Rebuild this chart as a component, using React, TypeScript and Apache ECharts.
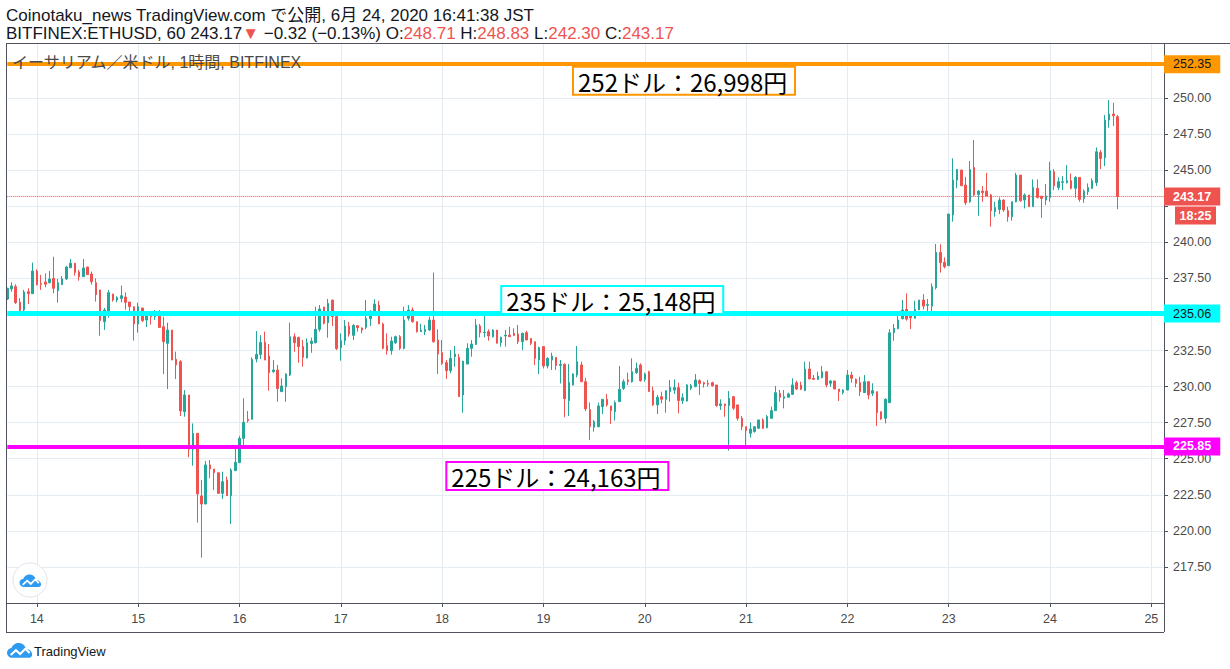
import React, { useEffect, useRef } from 'react';
import * as echarts from 'echarts';

// ---------- data: hourly ETHUSD candles [open, close, low, high] ----------
const D13 = [
  [236.07, 236.81, 236.0, 236.85], [236.77, 236.98, 236.58, 237.23], [236.93, 235.82, 235.73, 237.09],
  [235.84, 235.27, 235.13, 236.12], [235.31, 236.56, 235.17, 236.7], [236.58, 236.44, 235.73, 236.81],
  [236.44, 238.01, 236.44, 238.59],
];
const D14 = [
  [238.01, 237.07, 237.0, 238.13], [237.14, 237.07, 236.7, 237.74], [237.25, 237.09, 236.88, 237.85],
  [237.2, 237.46, 237.16, 238.01], [237.5, 236.81, 236.47, 239.0], [236.65, 237.2, 235.82, 237.46],
  [237.07, 237.46, 237.05, 237.67], [237.46, 238.29, 237.39, 238.36], [238.24, 238.55, 238.22, 238.85],
  [238.55, 237.9, 237.69, 238.55], [237.94, 237.62, 237.34, 238.08], [237.62, 238.22, 237.62, 238.85],
  [238.29, 237.76, 237.76, 238.29], [237.8, 237.27, 237.07, 237.97], [237.2, 236.37, 235.89, 237.5],
  [236.7, 234.57, 233.53, 236.7], [234.5, 235.31, 233.93, 235.45], [235.2, 236.51, 234.78, 236.7],
  [236.42, 236.0, 235.89, 236.42], [236.0, 236.17, 235.84, 236.26], [236.1, 236.3, 235.84, 237.0],
  [236.21, 235.84, 235.33, 236.53], [235.86, 235.54, 235.03, 235.86], [235.54, 234.34, 233.19, 235.54],
];
const D15 = [
  [234.34, 235.54, 233.74, 235.82], [235.45, 234.57, 234.48, 235.45], [234.62, 234.97, 234.13, 235.2],
  [234.97, 234.85, 234.3, 235.2], [234.85, 235.1, 234.62, 235.31], [235.12, 234.1, 234.1, 235.3],
  [234.15, 233.11, 230.87, 234.85], [233.0, 233.92, 229.83, 234.43], [233.92, 231.84, 231.84, 233.92],
  [231.89, 231.5, 230.53, 232.42], [231.73, 228.31, 227.96, 231.84], [228.26, 229.42, 227.91, 229.76],
  [229.42, 225.65, 225.1, 229.42], [225.65, 226.76, 224.52, 227.45], [226.76, 222.56, 220.57, 226.76],
  [222.42, 221.86, 218.14, 223.53], [221.86, 224.57, 221.86, 224.84], [224.57, 224.29, 223.64, 224.91],
  [224.29, 224.03, 222.83, 224.29], [224.03, 222.6, 222.56, 224.03], [222.6, 223.41, 222.21, 224.1],
  [223.53, 222.44, 222.44, 223.76], [222.44, 224.22, 220.48, 224.34], [224.17, 224.75, 224.17, 225.72],
];
const D16 = [
  [224.73, 226.41, 224.73, 226.58], [226.41, 227.52, 225.95, 229.19], [227.73, 227.64, 227.5, 228.31],
  [227.73, 231.89, 227.73, 232.03], [231.91, 232.23, 231.68, 233.85], [232.23, 233.07, 231.91, 233.57],
  [233.07, 231.84, 231.84, 233.81], [232.12, 230.96, 229.72, 232.95], [231.03, 231.15, 230.96, 231.84],
  [231.15, 229.86, 228.95, 231.5], [229.65, 230.04, 229.65, 230.57], [230.0, 230.87, 228.95, 230.92],
  [230.8, 233.46, 230.73, 234.43], [233.46, 233.04, 232.42, 233.69], [233.41, 232.77, 231.66, 233.46],
  [232.77, 232.03, 231.38, 233.23], [231.98, 233.04, 231.96, 233.34], [232.99, 233.14, 232.35, 233.39],
  [233.04, 233.97, 232.99, 235.54], [233.97, 235.38, 233.81, 235.65], [235.52, 234.38, 234.31, 235.52],
  [234.43, 235.77, 233.39, 236.07], [236.0, 234.85, 234.2, 236.0], [234.85, 232.63, 232.54, 234.89],
];
const D17 = [
  [232.7, 233.18, 231.8, 233.69], [233.18, 234.2, 232.88, 234.61], [234.2, 233.64, 233.46, 234.48],
  [233.55, 234.24, 233.23, 234.34], [234.22, 234.08, 233.81, 234.27], [234.06, 233.92, 233.69, 234.1],
  [234.1, 234.73, 233.97, 236.0], [234.71, 235.24, 234.2, 235.26], [235.19, 235.72, 235.05, 236.05],
  [235.65, 234.34, 234.34, 235.95], [234.34, 232.65, 232.58, 234.43], [232.86, 232.49, 232.21, 233.69],
  [232.49, 233.16, 232.21, 233.46], [233.04, 233.46, 232.95, 233.53], [233.46, 232.65, 232.54, 233.57],
  [232.65, 234.61, 232.58, 235.54], [234.73, 235.31, 234.57, 235.65], [235.31, 234.5, 234.43, 235.49],
  [234.5, 233.81, 233.74, 234.5], [233.81, 233.92, 233.78, 234.34], [233.81, 233.97, 233.57, 234.27],
  [233.92, 234.61, 233.85, 234.84], [234.61, 233.11, 233.04, 237.9], [233.23, 232.26, 230.87, 233.97],
];
const D18 = [
  [232.35, 231.61, 231.5, 233.23], [231.66, 231.1, 230.53, 231.84], [231.1, 231.96, 230.92, 232.53],
  [232.07, 232.26, 231.38, 232.81], [232.03, 229.3, 229.3, 232.26], [229.42, 231.77, 228.19, 231.77],
  [231.56, 232.65, 231.56, 233.0], [232.65, 232.95, 232.07, 233.23], [232.93, 234.27, 232.88, 234.68],
  [234.2, 233.74, 233.41, 234.34], [233.74, 233.78, 233.41, 234.89], [233.81, 233.51, 233.18, 233.97],
  [233.46, 233.92, 233.39, 233.97], [233.92, 233.0, 233.0, 233.92], [233.04, 233.41, 232.77, 233.46],
  [233.51, 233.57, 232.77, 233.92], [233.57, 233.46, 233.46, 234.15], [233.69, 233.55, 233.5, 234.04],
  [233.64, 233.11, 232.95, 234.27], [233.11, 233.69, 232.53, 233.74], [233.74, 233.23, 233.23, 233.87],
  [233.34, 233.0, 232.88, 233.34], [233.11, 231.96, 231.5, 233.11], [231.84, 232.7, 230.87, 232.77],
];
const D19 = [
  [232.77, 231.43, 231.26, 232.77], [231.43, 231.96, 231.26, 232.03], [231.84, 232.12, 231.15, 232.35],
  [232.03, 231.47, 231.15, 232.03], [231.47, 231.54, 230.22, 231.84], [231.54, 229.16, 227.87, 231.61],
  [229.02, 230.29, 227.96, 231.56], [230.11, 230.87, 230.08, 230.92], [230.8, 231.73, 230.64, 232.81],
  [231.5, 230.34, 230.34, 231.73], [230.34, 228.45, 228.3, 230.6], [228.4, 227.22, 226.3, 228.9],
  [227.18, 227.57, 226.88, 227.68], [227.22, 228.66, 227.18, 228.89], [228.61, 229.12, 228.1, 229.12],
  [229.12, 228.73, 228.61, 229.49], [228.66, 228.33, 227.41, 228.66], [228.26, 228.89, 227.64, 229.03],
  [228.96, 229.81, 228.96, 231.43], [229.88, 230.34, 229.76, 230.5], [230.46, 230.36, 230.11, 230.97],
  [230.34, 231.03, 230.27, 231.96], [230.97, 231.26, 230.87, 231.66], [231.5, 230.41, 230.34, 231.61],
];
const D20 = [
  [230.5, 230.87, 230.34, 230.97], [231.03, 229.65, 229.65, 231.1], [229.72, 228.73, 228.66, 230.0],
  [228.73, 229.26, 228.1, 229.42], [229.3, 229.12, 228.84, 229.65], [229.12, 229.72, 228.19, 229.72],
  [229.65, 229.95, 228.96, 230.46], [229.76, 229.93, 229.49, 230.5], [229.93, 229.03, 228.15, 230.27],
  [229.03, 229.23, 228.8, 229.53], [229.0, 230.11, 228.96, 230.18], [229.88, 230.06, 229.76, 230.18],
  [230.0, 230.46, 229.95, 230.87], [230.41, 230.22, 229.42, 230.5], [230.27, 230.18, 229.93, 230.34],
  [230.22, 230.16, 230.0, 230.46], [230.27, 230.06, 230.0, 230.34], [230.11, 228.68, 228.61, 230.11],
  [228.68, 228.8, 228.38, 229.12], [228.8, 228.68, 227.91, 228.8], [228.68, 229.19, 225.56, 229.69],
  [229.3, 228.5, 228.38, 229.35], [228.73, 227.8, 227.64, 228.73], [227.8, 227.22, 226.99, 227.96],
];
const D21 = [
  [227.22, 226.95, 225.95, 227.22], [226.76, 227.06, 226.46, 227.52], [226.88, 227.22, 226.81, 227.22],
  [227.11, 227.69, 227.09, 227.69], [227.69, 227.11, 227.06, 227.8], [227.15, 227.92, 227.11, 228.03],
  [227.8, 228.33, 227.8, 228.61], [228.33, 229.58, 228.33, 230.04], [229.53, 229.26, 228.96, 229.76],
  [229.19, 229.3, 228.49, 229.76], [229.26, 229.49, 229.26, 229.58], [229.46, 230.11, 229.42, 230.57],
  [230.27, 229.83, 229.76, 230.41], [230.11, 229.81, 229.76, 230.34], [229.72, 231.22, 229.72, 231.73],
  [231.22, 230.53, 230.53, 231.73], [230.57, 230.5, 230.46, 230.8], [230.5, 230.73, 230.46, 231.03],
  [230.62, 231.03, 230.57, 231.43], [231.03, 230.11, 229.95, 231.03], [230.23, 230.39, 229.99, 230.46],
  [230.39, 229.83, 229.83, 230.39], [229.83, 229.65, 229.0, 229.83], [229.58, 229.76, 229.46, 229.81],
];
const D22 = [
  [229.76, 230.8, 229.76, 231.15], [230.8, 230.57, 230.27, 231.03], [230.5, 230.23, 229.95, 230.57],
  [230.27, 229.65, 229.35, 230.69], [229.58, 230.34, 229.58, 230.8], [230.34, 229.42, 229.12, 230.34],
  [229.53, 229.72, 229.35, 230.23], [229.65, 228.19, 227.27, 229.65], [228.26, 227.76, 227.69, 228.26],
  [227.8, 229.12, 227.45, 229.19], [228.88, 233.73, 228.88, 233.97], [233.74, 234.04, 233.18, 234.34],
  [234.01, 234.61, 233.99, 235.19], [234.71, 235.31, 234.66, 236.0], [235.35, 234.68, 234.57, 236.46],
  [234.91, 234.77, 233.99, 235.07], [234.73, 235.35, 234.73, 235.95], [235.31, 236.0, 235.31, 236.0],
  [236.0, 235.58, 235.35, 236.41], [235.63, 235.68, 235.24, 236.07], [235.58, 236.92, 235.24, 237.15],
  [236.85, 239.3, 236.74, 239.88], [239.3, 238.59, 237.9, 239.86], [238.61, 238.31, 238.19, 238.96],
];
const D23 = [
  [238.38, 241.96, 238.36, 241.96], [241.89, 244.31, 241.43, 245.82], [244.31, 245.05, 243.74, 245.05],
  [245.0, 243.92, 243.92, 245.05], [243.97, 242.74, 242.58, 244.54], [242.81, 245.05, 242.74, 245.63],
  [245.19, 243.28, 243.21, 247.09], [243.32, 243.55, 241.84, 243.62], [243.55, 243.44, 242.81, 243.9],
  [243.55, 243.21, 243.21, 244.82], [243.28, 242.19, 241.08, 243.35], [242.12, 242.42, 241.77, 242.81],
  [242.28, 242.93, 241.96, 243.11], [242.93, 242.24, 242.12, 242.97], [242.19, 241.77, 241.43, 242.47],
  [241.77, 242.81, 241.5, 242.81], [242.81, 244.66, 242.77, 244.82], [244.66, 242.88, 242.81, 244.66],
  [242.93, 243.28, 242.35, 243.39], [243.28, 242.47, 242.47, 243.28], [242.47, 243.8, 242.47, 244.36],
  [243.74, 243.11, 243.04, 244.36], [243.2, 243.04, 241.7, 243.2], [242.93, 243.2, 242.58, 244.04],
];
const D24 = [
  [243.11, 244.96, 242.81, 245.58], [244.89, 243.92, 243.62, 245.07], [243.8, 244.2, 243.62, 244.5],
  [244.15, 244.2, 243.62, 244.59], [244.13, 244.27, 244.08, 245.35], [244.27, 243.74, 243.67, 244.77],
  [243.74, 244.5, 243.09, 244.59], [244.5, 242.97, 242.81, 244.5], [243.04, 243.55, 242.74, 243.67],
  [243.5, 243.8, 243.28, 244.08], [243.74, 244.27, 243.69, 244.43], [244.13, 246.28, 243.9, 246.58],
  [246.23, 245.81, 245.07, 246.39], [245.86, 248.47, 245.28, 248.82], [248.47, 248.89, 247.94, 249.86],
  [248.89, 248.77, 248.06, 249.67], [248.71, 243.17, 242.3, 248.83],
];
const DAYS = [D13, D14, D15, D16, D17, D18, D19, D20, D21, D22, D23, D24];
const CANDLES = DAYS.flat();

// hourly time slots (June 13 17:00 JST onward), incl. empty space on the right
const START_DAY = 13;
const START_HOUR = 17;
const SLOT_COUNT = 275;
const CATEGORIES: string[] = [];
for (let k = 0; k < SLOT_COUNT; k++) {
  const t = START_HOUR + k;
  CATEGORIES.push(`6/${START_DAY + Math.floor(t / 24)} ${String(t % 24).padStart(2, '0')}:00`);
}

// price-axis ticks hidden behind the level tags in the reference
const HIDDEN_TICKS = [252.5, 242.5];

// horizontal levels
const LEVEL_VALUES = [252.35, 235.06, 225.85, 243.17];
const LEVEL_COLORS = ['#ff9800', '#00ffff', '#ff00ff', '#ef5350'];
const LEVEL_TEXT_COLORS = ['#131722', '#131722', '#ffffff', '#ffffff'];
const LEVEL_WIDTHS = [4, 5, 4, 1];
const COUNTDOWN = '18:25';

// annotation boxes
const NOTE_TEXTS = ['252ドル：26,998円', '235ドル：25,148円', '225ドル：24,163円'];
const NOTE_COLORS = ['#ff9800', '#00ffff', '#ff00ff'];
const NOTE_AT: [number, number][] = [[134, 252.17], [117, 236.97], [104, 224.78]];

const HEADER_1 = 'Coinotaku_news TradingView.com で公開, 6月 24, 2020 16:41:38 JST';
const SYMBOL = 'BITFINEX:ETHUSD, 60 243.17';
const CHANGE = ' −0.32 (−0.13%)';
const OHLC_LABELS = ['O', 'H', 'L', 'C'];
const OHLC_VALUES = ['248.71', '248.83', '242.30', '243.17'];
const PANE_TITLE = 'イーサリアム／米ドル, 1時間, BITFINEX';

const UP = '#26a69a';
const DOWN = '#ef5350';
const GRID = '#e4ebf1';
const AXIS = '#50535e';
const TEXT = '#131722';
const FONT = "'Liberation Sans', Arial, 'Noto Sans CJK JP', sans-serif";
const CJK = "'Noto Sans CJK JP', sans-serif";

const CLOUD_PATH =
  'M5 14C2.2 14 0 11.8 0 9.2C0 6.8 1.9 4.9 4.3 4.7C5.2 2 7.9 0 11.1 0C14.7 0 17.6 2.5 18.2 5.8C21.4 5.9 24 8.3 24 11.2C24 12.7 22.8 14 21.2 14Z';
echarts.graphic.registerShape('tvCloud', echarts.graphic.extendPath(CLOUD_PATH, {}));

const isMidnight = (_i: number, v: string) => v.endsWith(' 00:00');

function logo(x: number, y: number, s: number) {
  return {
    type: 'group',
    x,
    y,
    scaleX: s,
    scaleY: s,
    z: 100,
    children: [
      { type: 'tvCloud', style: { fill: '#2e9bf0' }, z: 100 },
      {
        type: 'polyline',
        shape: { points: [[3.5, 11.5], [8.5, 6.8], [12.5, 10.5], [17.5, 5.5], [21.5, 9.5]] },
        style: { stroke: '#ffffff', lineWidth: 2, fill: null },
        z: 101,
      },
    ],
  };
}

export default function App() {
  const ref = useRef<HTMLDivElement>(null);

  useEffect(() => {
    if (!ref.current) return;
    const chart = echarts.init(ref.current, null, { renderer: 'svg' });

    const markData = LEVEL_VALUES.map((v, i) => ({
      yAxis: v,
      lineStyle: {
        color: LEVEL_COLORS[i],
        width: LEVEL_WIDTHS[i],
        type: i === 3 ? 'dotted' : 'solid',
      },
      label: {
        show: true,
        position: 'end',
        distance: 0,
        formatter: v.toFixed(2),
        backgroundColor: LEVEL_COLORS[i],
        color: LEVEL_TEXT_COLORS[i],
        fontWeight: i >= 2 ? 'bold' : 'normal',
        fontFamily: FONT,
        fontSize: 12.5,
        lineHeight: 13,
        padding: [3, 9, 2, 9],
      },
    }));

    chart.setOption({
      animation: false,
      backgroundColor: '#ffffff',
      textStyle: { fontFamily: FONT },
      grid: { left: 7.3, top: 43.5, width: 1156.7, height: 559.5, containLabel: false },
      xAxis: {
        type: 'category',
        data: CATEGORIES,
        boundaryGap: false,
        axisLine: { show: true, lineStyle: { color: AXIS, width: 1 } },
        axisTick: { show: true, interval: isMidnight, length: 4, lineStyle: { color: AXIS } },
        axisLabel: {
          show: true,
          interval: isMidnight,
          formatter: (v: string) => v.split('/')[1].split(' ')[0],
          color: '#4a4a4a',
          fontSize: 12.5,
          margin: 10,
          fontFamily: FONT,
        },
        splitLine: { show: true, interval: isMidnight, lineStyle: { color: GRID, width: 1 } },
      },
      yAxis: {
        type: 'value',
        position: 'right',
        min: 215,
        max: 253.78,
        interval: 2.5,
        axisLine: { show: true, lineStyle: { color: AXIS, width: 1 } },
        axisTick: { show: true, length: 4, lineStyle: { color: AXIS } },
        axisLabel: {
          color: '#4a4a4a',
          fontSize: 12.5,
          margin: 9,
          fontFamily: FONT,
          showMinLabel: false,
          showMaxLabel: false,
          formatter: (v: number) =>
            HIDDEN_TICKS.some((h) => Math.abs(h - v) < 1e-6) ? '' : v.toFixed(2),
        },
        splitLine: { show: true, lineStyle: { color: GRID, width: 1 } },
      },
      series: [
        {
          type: 'candlestick',
          data: CANDLES,
          barWidth: 2,
          itemStyle: {
            color: UP,
            color0: DOWN,
            borderColor: UP,
            borderColor0: DOWN,
            borderWidth: 1,
          },
          markLine: {
            symbol: ['none', 'none'],
            silent: true,
            animation: false,
            data: markData,
          },
        },
      ],
    });

    const px = (i: number) => chart.convertToPixel({ xAxisIndex: 0 }, i) as number;
    const py = (v: number) => chart.convertToPixel({ yAxisIndex: 0 }, v) as number;

    const elements: any[] = [];
    // header
    elements.push({
      type: 'text',
      x: 6,
      y: 15,
      z: 100,
      style: { text: HEADER_1, fontSize: 17, fontFamily: FONT, fill: TEXT, verticalAlign: 'middle' },
    });
    let line2 = `{a|${SYMBOL}}{r|▼}{a|${CHANGE}}`;
    OHLC_LABELS.forEach((l, i) => {
      line2 += `{a| ${l}:}{r|${OHLC_VALUES[i]}}`;
    });
    elements.push({
      type: 'text',
      x: 6,
      y: 33,
      z: 100,
      style: {
        text: line2,
        fontSize: 17,
        fontFamily: FONT,
        verticalAlign: 'middle',
        rich: {
          a: { fill: TEXT, fontSize: 17, fontFamily: FONT },
          r: { fill: DOWN, fontSize: 17, fontFamily: FONT },
        },
      },
    });
    // frame
    const frame = [
      [6, 43.5, 1230, 43.5],
      [6.5, 43.5, 6.5, 632],
      [6, 632.5, 1164, 632.5],
      [6, 603.5, 8, 603.5],
      [1164.5, 603, 1164.5, 632],
    ];
    frame.forEach((f) =>
      elements.push({
        type: 'line',
        z: 50,
        shape: { x1: f[0], y1: f[1], x2: f[2], y2: f[3] },
        style: { stroke: AXIS, lineWidth: 1 },
      })
    );
    // pane title
    elements.push({
      type: 'text',
      x: 12,
      y: 62,
      z: 100,
      style: { text: PANE_TITLE, fontSize: 16, fontFamily: FONT, fill: '#4a4a4a', verticalAlign: 'middle' },
    });
    // annotation boxes
    NOTE_TEXTS.forEach((t, i) => {
      const x = px(NOTE_AT[i][0]);
      const y = py(NOTE_AT[i][1]);
      elements.push({
        type: 'rect',
        z: 100,
        shape: { x, y, width: 222, height: 28 },
        style: { fill: '#ffffff', stroke: NOTE_COLORS[i], lineWidth: 2 },
      });
      elements.push({
        type: 'text',
        z: 101,
        x: x + 5,
        y: y + 14.5,
        style: { text: t, fontSize: 24, fontFamily: CJK, fill: '#000000', verticalAlign: 'middle' },
      });
    });
    // countdown box under the last price
    const yLast = py(LEVEL_VALUES[3]);
    elements.push({
      type: 'rect',
      z: 100,
      shape: { x: 1175, y: yLast + 10, width: 41, height: 18 },
      style: { fill: DOWN },
    });
    elements.push({
      type: 'text',
      z: 101,
      x: 1195.5,
      y: yLast + 19,
      style: {
        text: COUNTDOWN,
        fontSize: 12.5,
        fontWeight: 'bold',
        fontFamily: FONT,
        fill: '#ffffff',
        align: 'center',
        verticalAlign: 'middle',
      },
    });
    // small round logo button
    elements.push({
      type: 'circle',
      z: 90,
      shape: { cx: 30, cy: 580, r: 17 },
      style: { fill: '#ffffff', stroke: '#e0e3eb', lineWidth: 1 },
    });
    elements.push(logo(19.5, 574.5, 0.9));
    // bottom brand
    elements.push(logo(7, 643, 1.05));
    elements.push({
      type: 'text',
      x: 34,
      y: 651,
      z: 100,
      style: { text: 'TradingView', fontSize: 13, fontFamily: FONT, fill: TEXT, verticalAlign: 'middle' },
    });

    chart.setOption({ graphic: { elements } });

    return () => chart.dispose();
  }, []);

  return (
    <div
      ref={ref}
      style={{ position: 'absolute', left: 0, top: 0, width: 1230, height: 669, background: '#ffffff' }}
    />
  );
}
